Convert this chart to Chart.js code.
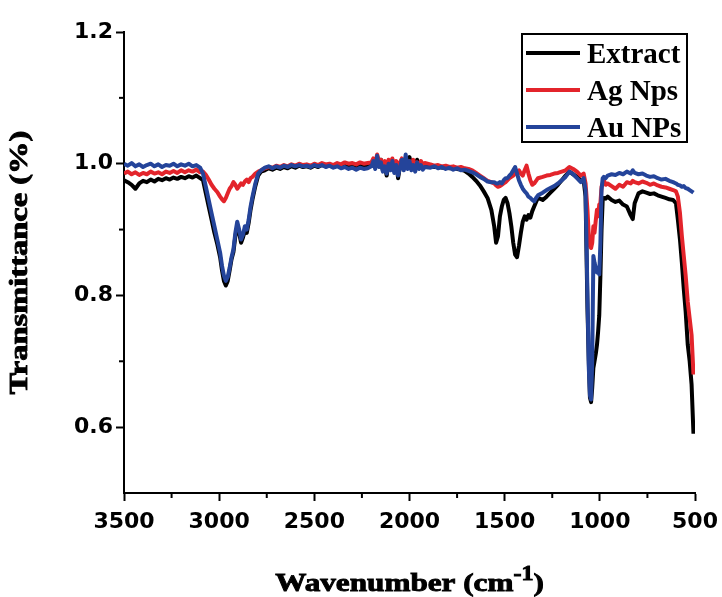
<!DOCTYPE html>
<html>
<head>
<meta charset="utf-8">
<script src="https://cdn.jsdelivr.net/npm/chart.js@4/dist/chart.umd.min.js"></script>
<style>
html,body{margin:0;padding:0;background:#ffffff;}
#wrap{width:722px;height:597px;position:relative;background:#ffffff;}
</style>
</head>
<body>
<div id="wrap"><canvas id="c" width="722" height="597"></canvas></div>
<script>
// ---- data ----
const wavenumbers = [
  3500,3480,3460,3440,3420,3400,3380,3360,3340,3320,3300,3280,3260,3240,3220,3200,3180,3160,3140,3120,3100,
  3085,3070,3055,3040,3025,3010,2995,2985,2975,2965,2955,2945,2935,2925,2915,2905,2895,2885,2875,2865,2855,2845,2835,2825,2810,2795,2780,
  2760,2740,2720,2700,2680,2660,2640,2620,2600,2580,2560,2540,2520,2500,2480,2460,2440,2420,2400,2380,2360,2340,2320,2300,2280,2260,2240,2220,
  2200,2190,2180,2170,2160,2150,2140,2130,2120,2110,2100,2090,2080,2070,2060,2050,2040,2030,2020,2010,2000,1990,1980,1970,1960,1950,1940,1930,1920,
  1890,1870,1850,1830,1810,1790,1770,1750,1730,1710,1690,1670,1650,1630,1610,1590,
  1570,1555,1545,1535,1525,1515,1505,1495,1485,1475,1465,1455,1445,1435,1425,1415,1405,1395,1385,1375,1365,1355,1345,1335,1325,
  1300,1280,1260,1240,1220,1200,1180,1160,1140,1120,1100,
  1085,1075,1065,1058,1052,1046,1040,1034,1028,1021,1015,1009,1003,997,991,985,979,
  969,959,938,918,898,878,858,838,827,817,797,776,756,736,716,696,676,655,635,615,600,590,579,569,559,549,538,528,518,508
];

const extract = [
  0.975,0.972,0.968,0.962,0.970,0.974,0.972,0.976,0.973,0.977,0.975,0.978,0.976,0.979,0.977,0.980,0.978,0.981,0.979,0.982,0.978,
  0.975,0.955,0.935,0.915,0.895,0.878,0.858,0.838,0.822,0.815,0.822,0.838,0.855,0.866,0.890,0.905,0.895,0.880,0.888,0.898,0.895,0.910,0.930,0.946,0.966,0.982,0.988,
  0.990,0.993,0.991,0.994,0.992,0.995,0.993,0.996,0.994,0.997,0.995,0.996,0.994,0.997,0.995,0.998,0.996,0.997,0.995,0.998,0.996,0.999,0.997,0.998,0.996,0.999,0.997,0.998,
  0.998,1.002,0.995,1.004,0.996,1.006,0.990,0.998,0.982,1.000,0.994,1.003,0.990,1.002,0.978,0.996,1.004,0.992,1.008,0.994,1.010,0.996,1.002,0.992,1.006,0.995,1.000,0.994,0.998,
  0.997,0.995,0.996,0.994,0.995,0.993,0.994,0.992,0.991,0.989,0.985,0.980,0.974,0.967,0.958,0.948,
  0.930,0.905,0.880,0.890,0.920,0.935,0.945,0.948,0.940,0.925,0.905,0.880,0.862,0.858,0.875,0.895,0.912,0.920,0.915,0.922,0.918,0.928,0.935,0.942,0.948,
  0.945,0.950,0.956,0.962,0.968,0.975,0.982,0.988,0.984,0.980,0.975,
  0.975,0.950,0.780,0.700,0.645,0.638,0.660,0.690,0.700,0.712,0.725,0.745,0.770,0.830,0.900,0.945,0.948,
  0.947,0.950,0.945,0.942,0.944,0.938,0.935,0.922,0.916,0.940,0.955,0.958,0.956,0.954,0.955,0.952,0.950,0.948,0.946,0.945,0.940,0.915,0.885,0.850,0.810,0.775,0.725,0.700,0.665,0.590
];

const agNps = [
  0.985,0.988,0.984,0.987,0.983,0.986,0.984,0.988,0.985,0.987,0.984,0.988,0.986,0.989,0.986,0.990,0.987,0.990,0.988,0.991,0.987,
  0.988,0.983,0.976,0.968,0.962,0.957,0.950,0.946,0.943,0.948,0.955,0.962,0.966,0.972,0.968,0.962,0.966,0.970,0.968,0.973,0.976,0.972,0.978,0.980,0.985,0.988,0.990,
  0.993,0.995,0.994,0.997,0.995,0.998,0.996,0.999,0.997,1.000,0.998,0.999,0.997,1.000,0.998,1.001,0.999,1.000,0.998,1.001,0.999,1.002,1.000,1.001,0.999,1.002,1.000,1.001,
  1.002,1.008,1.000,1.014,1.003,1.006,0.998,1.004,0.996,1.006,1.000,1.008,0.998,1.004,0.994,1.002,1.008,0.998,1.006,1.000,1.004,0.998,1.006,0.996,1.002,0.998,1.004,0.999,1.001,
  0.999,0.997,0.998,0.996,0.997,0.995,0.996,0.994,0.995,0.993,0.992,0.990,0.986,0.982,0.978,0.974,
  0.972,0.970,0.967,0.965,0.966,0.968,0.970,0.972,0.975,0.978,0.980,0.982,0.985,0.988,0.990,0.985,0.982,0.990,0.997,0.985,0.975,0.968,0.970,0.974,0.978,
  0.980,0.982,0.983,0.985,0.986,0.988,0.990,0.995,0.992,0.988,0.982,
  0.985,0.970,0.930,0.890,0.875,0.872,0.880,0.905,0.895,0.915,0.930,0.920,0.938,0.940,0.965,0.970,0.975,
  0.968,0.970,0.966,0.962,0.968,0.965,0.972,0.970,0.974,0.972,0.970,0.973,0.971,0.968,0.970,0.967,0.965,0.964,0.962,0.960,0.958,0.950,0.925,0.890,0.860,0.830,0.790,0.765,0.740,0.680
];

const auNps = [
  1.000,0.997,1.001,0.996,0.999,0.995,0.998,1.000,0.996,0.999,0.995,0.998,0.997,1.000,0.996,0.999,0.997,1.000,0.996,0.998,0.994,
  0.985,0.965,0.945,0.925,0.905,0.885,0.865,0.845,0.830,0.822,0.828,0.842,0.858,0.870,0.895,0.912,0.900,0.885,0.892,0.905,0.900,0.915,0.935,0.950,0.970,0.985,0.990,
  0.994,0.996,0.993,0.996,0.994,0.997,0.995,0.998,0.996,0.998,0.996,0.997,0.995,0.998,0.996,0.998,0.995,0.997,0.994,0.996,0.993,0.995,0.992,0.994,0.991,0.994,0.992,0.993,
  0.996,1.004,0.992,1.012,0.995,1.002,0.988,0.996,0.985,1.000,0.990,1.004,0.986,0.998,0.982,0.994,1.006,0.990,1.014,0.992,1.004,0.990,0.998,0.988,1.002,0.992,0.998,0.991,0.995,
  0.994,0.996,0.993,0.995,0.992,0.994,0.991,0.993,0.990,0.991,0.989,0.987,0.984,0.980,0.977,0.973,
  0.972,0.972,0.970,0.970,0.972,0.970,0.975,0.978,0.978,0.982,0.985,0.990,0.995,0.985,0.975,0.968,0.962,0.958,0.955,0.950,0.948,0.945,0.943,0.948,0.952,
  0.956,0.960,0.963,0.966,0.970,0.975,0.980,0.988,0.984,0.978,0.972,
  0.978,0.960,0.800,0.690,0.648,0.642,0.700,0.860,0.850,0.842,0.835,0.838,0.832,0.880,0.960,0.978,0.980,
  0.978,0.982,0.984,0.983,0.986,0.984,0.988,0.985,0.990,0.986,0.984,0.985,0.982,0.980,0.981,0.978,0.976,0.977,0.974,0.972,0.970,0.968,0.967,0.965,0.966,0.963,0.962,0.960,0.958,0.956
];

const seriesLabels = ['Extract', 'Ag Nps', 'Au NPs'];
const xMajorStep = 500;
const xTickStep = 250;
const yTickStep = 0.1;
const yLabelled = [0.6, 0.8, 1.0, 1.2];
const xTitle = 'Wavenumber (cm';
const xTitleSup = '-1';
const yTitle = 'Transmittance (%)';

// ---- styles ----
const colors = ['#000000', '#e3242b', '#24449a'];

function toPoints(ys) { return wavenumbers.map((w, i) => ({ x: w, y: ys[i] })); }

function isYLabelled(v) { return yLabelled.some(t => Math.abs(t - v) < 1e-6); }

const minorTicks = {
  id: 'minorTicks',
  afterDraw(chart) {
    const ctx = chart.ctx;
    const xs = chart.scales.x, ys = chart.scales.y;
    ctx.save();
    ctx.strokeStyle = '#000';
    ctx.lineWidth = 2;
    xs.ticks.forEach(t => {
      if (Math.round(t.value) % xMajorStep !== 0) {
        const p = xs.getPixelForValue(t.value);
        ctx.beginPath(); ctx.moveTo(p, xs.top); ctx.lineTo(p, xs.top + 5); ctx.stroke();
      }
    });
    ys.ticks.forEach(t => {
      if (!isYLabelled(t.value) && t.value > ys.min + 1e-6) {
        const p = ys.getPixelForValue(t.value);
        ctx.beginPath(); ctx.moveTo(ys.right, p); ctx.lineTo(ys.right - 5, p); ctx.stroke();
      }
    });
    ctx.restore();
  }
};

const titles = {
  id: 'stretchedTitles',
  afterDraw(chart) {
    const ctx = chart.ctx;
    const a = chart.chartArea;
    ctx.save();
    ctx.fillStyle = '#000';
    ctx.strokeStyle = '#000';
    ctx.lineWidth = 0.9;
    // y title
    ctx.save();
    ctx.translate(20, (a.top + a.bottom) / 2);
    ctx.rotate(-Math.PI / 2);
    ctx.scale(1.25, 1);
    ctx.font = 'bold 26px "Liberation Serif"';
    ctx.textAlign = 'center';
    ctx.textBaseline = 'middle';
    ctx.fillText(yTitle, 0, 0);
    ctx.strokeText(yTitle, 0, 0);
    ctx.restore();
    // x title
    ctx.save();
    const mainFont = 'bold 26px "Liberation Serif"';
    const supFont = 'bold 20px "Liberation Serif"';
    ctx.font = mainFont;
    const w1 = ctx.measureText(xTitle).width;
    ctx.font = supFont;
    const w2 = ctx.measureText(xTitleSup).width;
    ctx.font = mainFont;
    const w3 = ctx.measureText(')').width;
    const total = w1 + w2 + w3;
    ctx.translate((a.left + a.right) / 2, 591);
    ctx.scale(1.2, 1);
    ctx.textAlign = 'left';
    ctx.textBaseline = 'alphabetic';
    let x = -total / 2;
    ctx.font = mainFont;
    ctx.fillText(xTitle, x, 0); ctx.strokeText(xTitle, x, 0);
    x += w1;
    ctx.font = supFont;
    ctx.fillText(xTitleSup, x, -11); ctx.strokeText(xTitleSup, x, -11);
    x += w2;
    ctx.font = mainFont;
    ctx.fillText(')', x, 0); ctx.strokeText(')', x, 0);
    ctx.restore();
    ctx.restore();
  }
};

const boxLegend = {
  id: 'boxLegend',
  afterDraw(chart) {
    const ctx = chart.ctx;
    const a = chart.chartArea;
    const w = 165, h = 108;
    const left = a.right - 8 - w, top = a.top + 2;
    ctx.save();
    ctx.fillStyle = '#fff';
    ctx.fillRect(left, top, w, h);
    ctx.strokeStyle = '#000';
    ctx.lineWidth = 2;
    ctx.strokeRect(left, top, w, h);
    ctx.font = 'bold 29px "Liberation Serif"';
    ctx.textAlign = 'left';
    ctx.textBaseline = 'alphabetic';
    chart.data.datasets.forEach((ds, i) => {
      const cy = top + 19 + i * 37;
      ctx.strokeStyle = ds.borderColor;
      ctx.lineWidth = 4;
      ctx.beginPath(); ctx.moveTo(left + 4, cy); ctx.lineTo(left + 58, cy); ctx.stroke();
      ctx.fillStyle = '#000';
      ctx.fillText(ds.label, left + 65, cy + 10);
    });
    ctx.restore();
  }
};

new Chart(document.getElementById('c'), {
  type: 'line',
  data: {
    datasets: [
      { label: seriesLabels[0], data: toPoints(extract), borderColor: colors[0], order: 3 },
      { label: seriesLabels[1], data: toPoints(agNps), borderColor: colors[1], order: 2 },
      { label: seriesLabels[2], data: toPoints(auNps), borderColor: colors[2], order: 1 }
    ]
  },
  options: {
    responsive: false,
    animation: false,
    devicePixelRatio: 1,
    layout: { padding: { top: 32, right: 27, left: 0, bottom: 0 } },
    elements: {
      line: { borderWidth: 4, tension: 0, fill: false, borderJoinStyle: 'round' },
      point: { radius: 0, hoverRadius: 0 }
    },
    plugins: {
      legend: { display: false },
      tooltip: { enabled: false },
      title: { display: false }
    },
    scales: {
      x: {
        type: 'linear',
        reverse: true,
        min: 500,
        max: 3500,
        afterFit(scale) { scale.height = 104; scale.paddingRight = 0; scale.paddingLeft = 0; },
        ticks: {
          stepSize: xTickStep,
          autoSkip: false,
          maxRotation: 0,
          padding: 8,
          color: '#000',
          font: { family: '"DejaVu Sans"', weight: 'bold', size: 22 },
          callback: v => (Math.round(v) % xMajorStep === 0 ? String(v) : '')
        },
        grid: {
          drawOnChartArea: false,
          drawTicks: true,
          tickLength: 8,
          tickWidth: 2,
          tickColor: c => (c.tick && Math.round(c.tick.value) % xMajorStep === 0 ? '#000' : 'rgba(0,0,0,0)')
        },
        border: { display: true, color: '#000', width: 2 }
      },
      y: {
        type: 'linear',
        min: 0.5,
        max: 1.2,
        afterFit(scale) { scale.width = 124; scale.paddingTop = 0; scale.paddingBottom = 0; },
        ticks: {
          stepSize: yTickStep,
          autoSkip: false,
          padding: 3,
          color: '#000',
          font: { family: '"DejaVu Sans"', weight: 'bold', size: 22 },
          callback: v => (isYLabelled(v) ? Number(v).toFixed(1) : '')
        },
        grid: {
          drawOnChartArea: false,
          drawTicks: true,
          tickLength: 8,
          tickWidth: 2,
          tickColor: c => (c.tick && isYLabelled(c.tick.value) ? '#000' : 'rgba(0,0,0,0)')
        },
        border: { display: true, color: '#000', width: 2 }
      }
    }
  },
  plugins: [minorTicks, titles, boxLegend]
});
</script>
</body>
</html>
